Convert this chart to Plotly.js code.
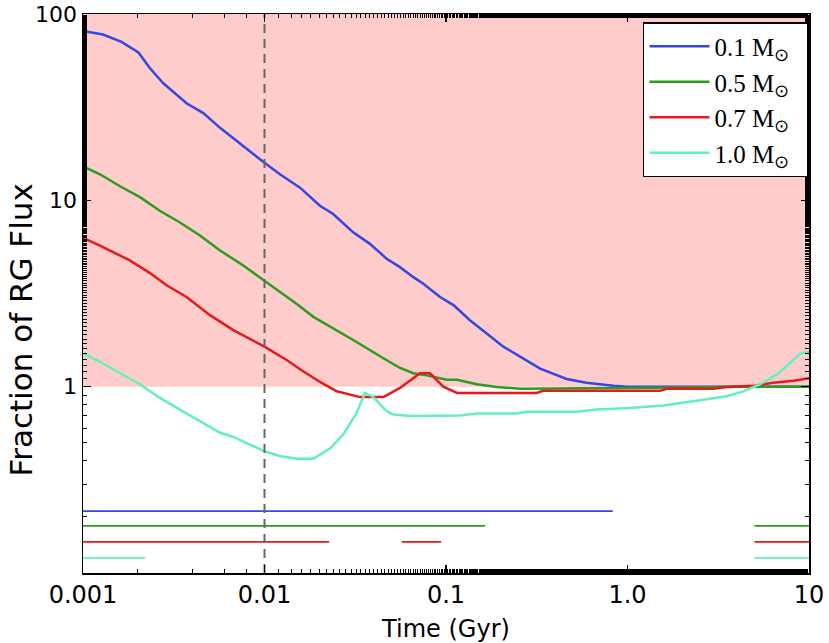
<!DOCTYPE html>
<html>
<head>
<meta charset="utf-8">
<script src="https://cdn.plot.ly/plotly-3.0.1.min.js"></script>
<style>html,body{margin:0;padding:0;background:#fff;} #plot{width:829px;height:643px;}</style>
</head>
<body>
<div id="plot"></div>
<script>
// ---- data (time in Gyr, fraction of RG flux) ----
const massLabels = ['0.1 M<sub>⊙</sub>\u00a0\u00a0', '0.5 M<sub>⊙</sub>\u00a0\u00a0', '0.7 M<sub>⊙</sub>\u00a0\u00a0', '1.0 M<sub>⊙</sub>\u00a0\u00a0'];
const colors = ['#3447e0', '#2c9c1f', '#e41a1c', '#62f0bf'];

const t01 = [0.001, 0.00129, 0.00163, 0.00202, 0.00234, 0.00277, 0.00372, 0.0046, 0.00569, 0.00703, 0.01, 0.01216, 0.0157, 0.0202, 0.0239, 0.0308, 0.0381, 0.0471, 0.0558, 0.0661, 0.075, 0.0927, 0.11, 0.135, 0.167, 0.207, 0.256, 0.33, 0.462, 0.595, 0.836, 1.0, 2.0, 5.0, 10];
const f01 = [81.1, 77.6, 70.9, 62.2, 51.1, 42.5, 33.2, 29.4, 24.5, 20.8, 15.9, 13.8, 11.7, 9.35, 8.44, 6.73, 5.84, 4.86, 4.38, 3.87, 3.57, 3.03, 2.74, 2.28, 1.93, 1.64, 1.45, 1.25, 1.10, 1.05, 1.01, 1.0, 1.0, 1.0, 1.0];

const t05 = [0.001, 0.00124, 0.0016, 0.00206, 0.00265, 0.00342, 0.00441, 0.00569, 0.00764, 0.01, 0.01216, 0.015, 0.0186, 0.0239, 0.0308, 0.0452, 0.0558, 0.0661, 0.0784, 0.101, 0.115, 0.148, 0.19, 0.256, 1.0, 2.0, 4.0, 10];
const f05 = [15.2, 13.8, 11.9, 10.4, 8.79, 7.61, 6.47, 5.38, 4.47, 3.72, 3.22, 2.79, 2.37, 2.06, 1.78, 1.42, 1.26, 1.18, 1.15, 1.09, 1.09, 1.03, 0.995, 0.975, 0.98, 0.99, 1.0, 1.0];

const t07 = [0.001, 0.00124, 0.00181, 0.00234, 0.00289, 0.00372, 0.00501, 0.00673, 0.01, 0.01324, 0.0157, 0.0202, 0.025, 0.0336, 0.0452, 0.0558, 0.0719, 0.0817, 0.0966, 0.115, 0.316, 0.343, 1.51, 1.64, 2.97, 3.52, 4.93, 6.36, 8.2, 10];
const f07 = [6.29, 5.72, 4.76, 4.07, 3.5, 3.03, 2.42, 2.01, 1.64, 1.39, 1.24, 1.06, 0.944, 0.879, 0.879, 0.984, 1.18, 1.18, 1.0, 0.925, 0.925, 0.95, 0.95, 0.975, 0.975, 0.995, 1.01, 1.05, 1.076, 1.11];

const t10 = [0.001, 0.00124, 0.0016, 0.00206, 0.00265, 0.00342, 0.00441, 0.00569, 0.00673, 0.00798, 0.01, 0.01216, 0.015, 0.0186, 0.023, 0.0272, 0.0322, 0.0358, 0.0397, 0.0471, 0.0513, 0.0634, 0.119, 0.148, 0.246, 0.279, 0.525, 0.676, 1.03, 1.57, 1.95, 2.51, 3.52, 4.35, 5.37, 6.64, 7.85, 8.92, 10];
const f10 = [1.51, 1.36, 1.18, 1.03, 0.87, 0.754, 0.653, 0.566, 0.537, 0.497, 0.45, 0.425, 0.41, 0.41, 0.467, 0.555, 0.724, 0.925, 0.881, 0.738, 0.709, 0.695, 0.70, 0.718, 0.718, 0.733, 0.733, 0.754, 0.769, 0.792, 0.819, 0.845, 0.888, 0.944, 1.03, 1.16, 1.34, 1.50, 1.54];

// time intervals marked below the curves (one row per mass)
const rowLevels = [0.215, 0.179, 0.147, 0.1205];
const rowIntervals = [
  [[0.001, 0.83]],
  [[0.001, 0.164], [5.0, 10]],
  [[0.001, 0.0227], [0.057, 0.094], [5.0, 10]],
  [[0.001, 0.0022], [5.0, 10]]
];

// shaded region and marker line
const shadeX = [0.001, 10, 10, 0.001, 0.001];
const shadeY = [1, 1, 100, 100, 1];
const markTime = 0.01;
const yRange = [0.1, 100];

const xTicks = [0.001, 0.01, 0.1, 1, 10];
const xTickText = ['0.001', '0.01', '0.1', '1.0', '10'];
const yTicks = [1, 10, 100];
const yTickText = ['1', '10', '100'];

// ---- traces ----
const traces = [];
traces.push({x: shadeX, y: shadeY, type: 'scatter', mode: 'lines', fill: 'toself',
  fillcolor: '#ffcccc', line: {width: 0, color: '#ffcccc'}, showlegend: false, hoverinfo: 'skip'});

const series = [[t01, f01], [t05, f05], [t07, f07], [t10, f10]];
series.forEach((s, i) => {
  traces.push({x: s[0], y: s[1], type: 'scatter', mode: 'lines', name: massLabels[i],
    legendgroup: 'g' + i, line: {color: colors[i], width: 2.5}});
});

rowIntervals.forEach((ints, i) => {
  const xs = [], ys = [];
  ints.forEach((iv, k) => {
    if (k > 0) { xs.push(null); ys.push(null); }
    xs.push(iv[0], iv[1]); ys.push(rowLevels[i], rowLevels[i]);
  });
  traces.push({x: xs, y: ys, type: 'scatter', mode: 'lines', showlegend: false,
    line: {color: colors[i], width: 1.8}, connectgaps: false, hoverinfo: 'skip'});
});

traces.push({x: [markTime, markTime], y: yRange, type: 'scatter', mode: 'lines', showlegend: false,
  line: {color: '#666666', width: 2, dash: '9px,6px'}, hoverinfo: 'skip'});

const axisCommon = {
  showgrid: false, zeroline: false, showline: true, linecolor: '#000', linewidth: 1.5,
  mirror: 'allticks', ticks: 'inside', ticklen: 8, tickwidth: 1.2, tickcolor: '#000',
  ticklabeloverflow: 'allow',
  minor: {ticks: 'inside', ticklen: 4, tickwidth: 1, tickcolor: '#000', showgrid: false}
};

const layout = {
  width: 829, height: 643,
  margin: {l: 83, r: 20, t: 14, b: 70},
  paper_bgcolor: '#fff', plot_bgcolor: '#fff',
  xaxis: Object.assign({}, axisCommon, {
    type: 'log', range: [-3, 1], tickvals: xTicks, ticktext: xTickText,
    tickfont: {family: 'DejaVu Sans', size: 24, color: '#000'},
    title: {text: 'Time (Gyr)', font: {family: 'DejaVu Sans', size: 24, color: '#000'}, standoff: 12}
  }),
  yaxis: Object.assign({}, axisCommon, {
    type: 'log', range: [-1, 2], tickvals: yTicks, ticktext: yTickText,
    tickfont: {family: 'DejaVu Sans', size: 22, color: '#000'}
  }),
  annotations: [{
    text: 'Fraction of RG Flux', textangle: -90, showarrow: false,
    xref: 'paper', x: 0, xanchor: 'center', xshift: -62,
    yref: 'paper', y: 0.434, yanchor: 'middle',
    font: {family: 'DejaVu Sans', size: 31, color: '#000'}
  }],
  legend: {x: 0.999, xanchor: 'right', y: 0.985, yanchor: 'top',
    bgcolor: '#fff', bordercolor: '#000', borderwidth: 1.2,
    font: {family: 'Liberation Serif', size: 25, color: '#000'},
    traceorder: 'grouped', tracegroupgap: 0, itemwidth: 60},
  showlegend: true
};

Plotly.newPlot('plot', traces, layout, {staticPlot: true, displayModeBar: false});
</script>
</body>
</html>
